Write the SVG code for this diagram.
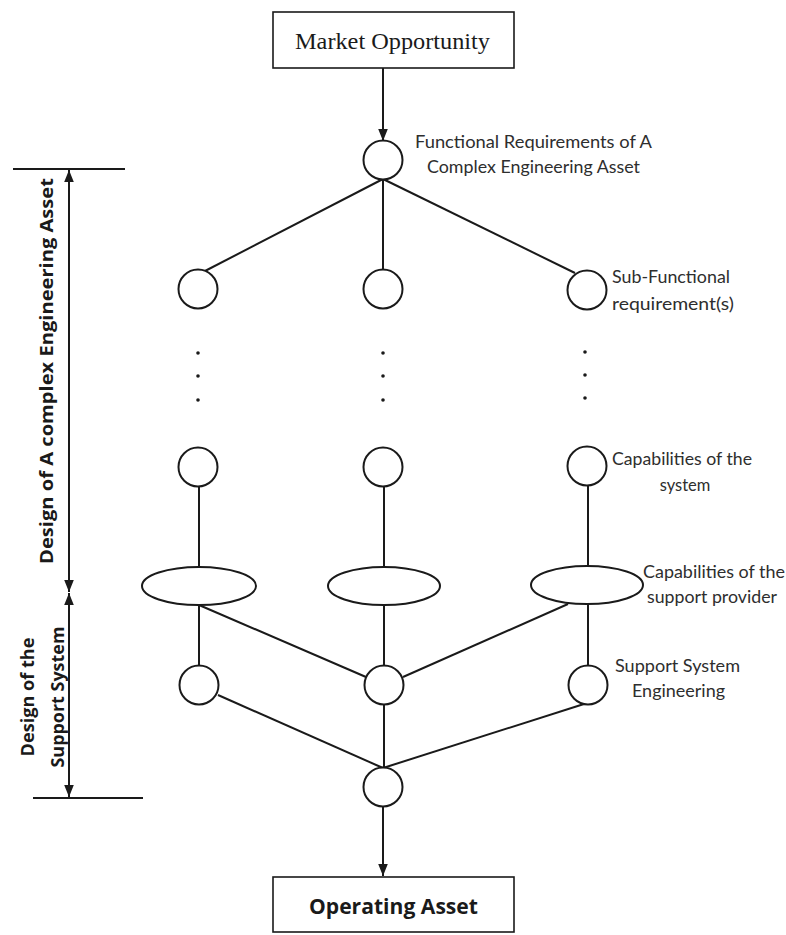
<svg xmlns="http://www.w3.org/2000/svg" width="786" height="935" viewBox="0 0 786 935">
  <style>
    .ln { stroke: #1a1a1a; stroke-width: 2; fill: none; }
    .nd { stroke: #1a1a1a; stroke-width: 2; fill: #ffffff; }
    .box { stroke: #1a1a1a; stroke-width: 1.6; fill: #ffffff; }
    .lbl { font-family: Lato, "Open Sans", "Liberation Sans", sans-serif; font-size: 16.5px; fill: #2e2e2e; }
    .side { font-family: "Open Sans", Lato, "Liberation Sans", sans-serif; font-size: 18px; font-weight: bold; fill: #1a1a1a; }
    .dot { fill: #1a1a1a; }
  </style>
  <defs>
    <marker id="arrowBig" viewBox="0 0 10 10" refX="10" refY="5" markerWidth="12" markerHeight="12" markerUnits="userSpaceOnUse" orient="auto">
      <path d="M0,1 L10,5 L0,9 z" fill="#1a1a1a"/>
    </marker>
  </defs>

  <rect width="786" height="935" fill="#ffffff"/>

  <!-- connectors -->
  <g id="connectors">
    <line class="ln" x1="383" y1="68" x2="383" y2="141" marker-end="url(#arrowBig)"/>
    <line class="ln" x1="383" y1="179" x2="205" y2="271"/>
    <line class="ln" x1="383" y1="179" x2="383" y2="270"/>
    <line class="ln" x1="383" y1="179" x2="575" y2="273"/>
    <line class="ln" x1="199" y1="486" x2="199" y2="567"/>
    <line class="ln" x1="384" y1="486" x2="384" y2="567"/>
    <line class="ln" x1="588" y1="486" x2="588" y2="567"/>
    <line class="ln" x1="199" y1="605" x2="199" y2="666"/>
    <line class="ln" x1="384" y1="605" x2="384" y2="666"/>
    <line class="ln" x1="588" y1="605" x2="588" y2="666"/>
    <line class="ln" x1="199" y1="605" x2="366" y2="677"/>
    <line class="ln" x1="568" y1="604" x2="403" y2="677"/>
    <line class="ln" x1="218" y1="695" x2="383" y2="768"/>
    <line class="ln" x1="584" y1="704" x2="383" y2="768"/>
    <line class="ln" x1="384" y1="704" x2="384" y2="768"/>
    <line class="ln" x1="383" y1="806" x2="383" y2="876" marker-end="url(#arrowBig)"/>
  </g>

  <!-- dimension marks on the left -->
  <g id="dimensions">
    <line class="ln" x1="13" y1="169" x2="125" y2="169"/>
    <line class="ln" x1="33" y1="798" x2="143" y2="798"/>
    <line class="ln" x1="69" y1="380" x2="69" y2="170" marker-end="url(#arrowBig)"/>
    <line class="ln" x1="69" y1="380" x2="69" y2="592" marker-end="url(#arrowBig)"/>
    <line class="ln" x1="69" y1="700" x2="69" y2="593" marker-end="url(#arrowBig)"/>
    <line class="ln" x1="69" y1="700" x2="69" y2="797" marker-end="url(#arrowBig)"/>
    <text class="side" transform="translate(53,371) rotate(-90)" text-anchor="middle" textLength="386" lengthAdjust="spacingAndGlyphs">Design of A complex Engineering Asset</text>
    <text class="side" transform="translate(34,697) rotate(-90)" text-anchor="middle" font-size="17" textLength="119" lengthAdjust="spacingAndGlyphs">Design of the</text>
    <text class="side" transform="translate(64,697) rotate(-90)" text-anchor="middle" font-size="17" textLength="141" lengthAdjust="spacingAndGlyphs">Support System</text>
  </g>

  <!-- top and bottom boxes -->
  <g id="market-opportunity">
    <rect class="box" x="273" y="12" width="241" height="56"/>
    <text x="295" y="49" font-family="'Liberation Serif', 'DejaVu Serif', serif" font-size="24" fill="#1a1a1a" textLength="195" lengthAdjust="spacingAndGlyphs">Market Opportunity</text>
  </g>
  <g id="operating-asset">
    <rect class="box" x="273" y="877" width="241" height="55"/>
    <text x="309" y="914" font-family="'Open Sans', Lato, 'Liberation Sans', sans-serif" font-size="21" font-weight="bold" fill="#1a1a1a" textLength="169" lengthAdjust="spacingAndGlyphs">Operating Asset</text>
  </g>

  <!-- functional requirements -->
  <g id="functional-requirements">
    <circle class="nd" cx="383" cy="160" r="19.5"/>
    <text class="lbl" x="415" y="148" textLength="237" lengthAdjust="spacingAndGlyphs">Functional Requirements of A</text>
    <text class="lbl" x="427" y="173" textLength="213" lengthAdjust="spacingAndGlyphs">Complex Engineering Asset</text>
  </g>

  <!-- sub-functional requirements -->
  <g id="sub-functional-1"><circle class="nd" cx="198" cy="289" r="19.5"/></g>
  <g id="sub-functional-2"><circle class="nd" cx="383" cy="289" r="19.5"/></g>
  <g id="sub-functional-3">
    <circle class="nd" cx="587" cy="290" r="19.5"/>
    <text class="lbl" x="612" y="283" textLength="118" lengthAdjust="spacingAndGlyphs">Sub-Functional</text>
    <text class="lbl" x="612" y="310" textLength="122" lengthAdjust="spacingAndGlyphs">requirement(s)</text>
  </g>

  <!-- ellipsis dots -->
  <g id="continuation">
    <circle class="dot" cx="198" cy="353" r="1.8"/>
    <circle class="dot" cx="198" cy="376" r="1.8"/>
    <circle class="dot" cx="198" cy="400" r="1.8"/>
    <circle class="dot" cx="383" cy="353" r="1.8"/>
    <circle class="dot" cx="383" cy="376" r="1.8"/>
    <circle class="dot" cx="383" cy="400" r="1.8"/>
    <circle class="dot" cx="585" cy="352" r="1.8"/>
    <circle class="dot" cx="585" cy="375" r="1.8"/>
    <circle class="dot" cx="585" cy="398" r="1.8"/>
  </g>

  <!-- system capabilities -->
  <g id="capability-1"><circle class="nd" cx="198" cy="467" r="19.5"/></g>
  <g id="capability-2"><circle class="nd" cx="383" cy="467" r="19.5"/></g>
  <g id="capability-3">
    <circle class="nd" cx="587" cy="466" r="19.5"/>
    <text class="lbl" x="612" y="465" textLength="140" lengthAdjust="spacingAndGlyphs">Capabilities of the</text>
    <text class="lbl" x="685" y="491" text-anchor="middle">system</text>
  </g>

  <!-- support provider capabilities -->
  <g id="provider-1"><ellipse class="nd" cx="199" cy="586" rx="57" ry="19"/></g>
  <g id="provider-2"><ellipse class="nd" cx="384" cy="586" rx="56" ry="19"/></g>
  <g id="provider-3">
    <ellipse class="nd" cx="587" cy="585" rx="56" ry="19"/>
    <text class="lbl" x="643" y="578" textLength="142" lengthAdjust="spacingAndGlyphs">Capabilities of the</text>
    <text class="lbl" x="647" y="603" textLength="130" lengthAdjust="spacingAndGlyphs">support provider</text>
  </g>

  <!-- support system engineering -->
  <g id="support-1"><circle class="nd" cx="199" cy="685" r="19.5"/></g>
  <g id="support-2"><circle class="nd" cx="384" cy="685" r="19.5"/></g>
  <g id="support-3">
    <circle class="nd" cx="588" cy="685" r="19.5"/>
    <text class="lbl" x="615" y="672" textLength="125" lengthAdjust="spacingAndGlyphs">Support System</text>
    <text class="lbl" x="632" y="697" textLength="93" lengthAdjust="spacingAndGlyphs">Engineering</text>
  </g>

  <!-- integration node -->
  <g id="integration"><circle class="nd" cx="383" cy="787" r="19.5"/></g>
</svg>
